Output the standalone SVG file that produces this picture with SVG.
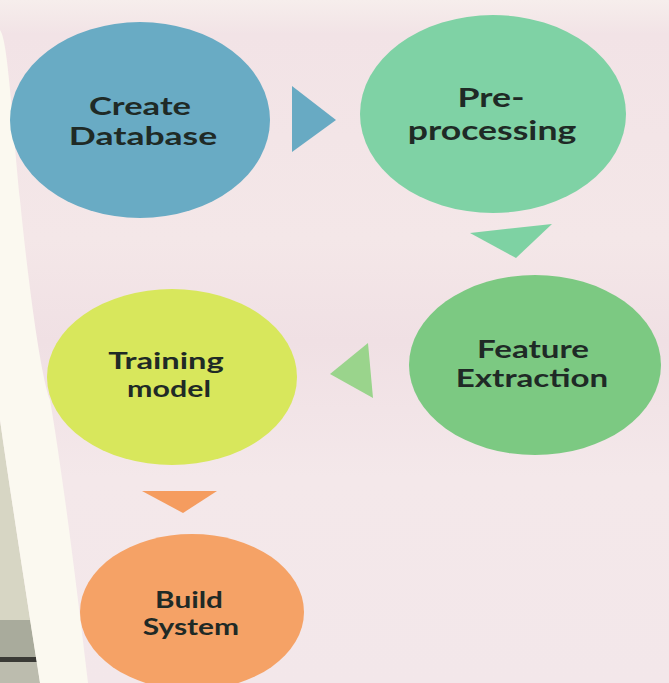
<svg xmlns="http://www.w3.org/2000/svg" width="669" height="683" viewBox="0 0 669 683">
  <defs>
    <linearGradient id="paper" x1="0" y1="0" x2="0" y2="1">
      <stop offset="0" stop-color="#f6eeec"/>
      <stop offset="0.05" stop-color="#f2e3e6"/>
      <stop offset="0.35" stop-color="#f4e7e8"/>
      <stop offset="0.5" stop-color="#f0e0e4"/>
      <stop offset="0.7" stop-color="#f4e8ea"/>
      <stop offset="1" stop-color="#f3e7ea"/>
    </linearGradient>
    <style>
      .label { font-family: Lato, "Open Sans", "Liberation Sans", sans-serif; font-weight: 700; fill: #1f2a26; text-anchor: middle; }
      .l1 { font-size: 24px; }
      .l2 { font-size: 27px; }
      .l3 { font-size: 24px; }
      .l4 { font-size: 23px; }
      .l5 { font-size: 22px; }
    </style>
  </defs>

  <!-- poster background -->
  <rect x="0" y="0" width="669" height="683" fill="url(#paper)"/>

  <!-- wall behind the poster, bottom left -->
  <path d="M0,420 C10,490 24,580 40,683 L0,683 Z" fill="#d7d6c4"/>
  <path d="M0,620 L30,620 C32,632 34,645 36,657 L0,657 Z" fill="#a9ab9c"/>
  <path d="M0,657 L36,657 L37,662 L0,662 Z" fill="#3a3a36"/>
  <path d="M0,662 L37,662 L40,683 L0,683 Z" fill="#bcbcae"/>

  <!-- curled white edge of the poster -->
  <path d="M0,30 C8,40 12,120 20,200 C30,300 42,380 50,400 C62,470 76,580 88,683 L40,683 C24,580 10,490 0,420 Z" fill="#fbf9f0"/>

  <g id="connectors">
    <polygon points="292,86 292,152 336,120" fill="#68aac3"/>
    <polygon points="470,233 552,224 516,258" fill="#7ed2a3"/>
    <polygon points="368,343 373,398 330,374" fill="#9ad48c"/>
    <polygon points="142,491 217,491 183,513" fill="#f59c5f"/>
  </g>

  <!-- the print is wider than tall, so labels are stretched horizontally -->
  <g id="create-database">
    <ellipse cx="140" cy="120" rx="130" ry="98" fill="#69abc4"/>
    <text class="label l1" transform="translate(140,115) scale(1.44,1)">Create</text>
    <text class="label l1" transform="translate(143,145) scale(1.48,1)">Database</text>
  </g>

  <g id="pre-processing">
    <ellipse cx="493" cy="114" rx="133" ry="99" fill="#7fd2a5"/>
    <text class="label l2" transform="translate(491,107) scale(1.32,1)">Pre-</text>
    <text class="label l2" transform="translate(492,140) scale(1.32,1)">processing</text>
  </g>

  <g id="feature-extraction">
    <ellipse cx="535" cy="365" rx="126" ry="90" fill="#7cc982"/>
    <text class="label l3" transform="translate(533,358) scale(1.38,1)">Feature</text>
    <text class="label l3" transform="translate(532,387) scale(1.38,1)">Extraction</text>
  </g>

  <g id="training-model">
    <ellipse cx="172" cy="377" rx="125" ry="88" fill="#d8e75c"/>
    <text class="label l4" transform="translate(166,369) scale(1.42,1)">Training</text>
    <text class="label l4" transform="translate(169,397) scale(1.32,1)">model</text>
  </g>

  <g id="build-system">
    <ellipse cx="192" cy="612" rx="112" ry="78" fill="#f5a266"/>
    <text class="label l5" transform="translate(189,608) scale(1.35,1)">Build</text>
    <text class="label l5" transform="translate(191,635) scale(1.36,1)">System</text>
  </g>
</svg>
